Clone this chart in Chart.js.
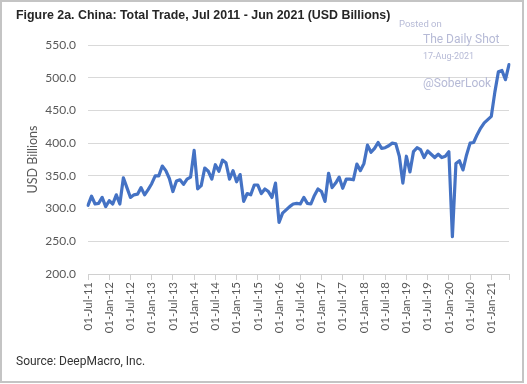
<!DOCTYPE html>
<html>
<head>
<meta charset="utf-8">
<title>China Total Trade</title>
<script src="https://cdn.jsdelivr.net/npm/chart.js@4.4.0/dist/chart.umd.min.js"></script>
<style>
  html, body { margin: 0; padding: 0; background: #fff; }
  #wrap { width: 527px; height: 384px; }
</style>
</head>
<body>
<div id="wrap"><canvas id="tradeChart" width="527" height="384"></canvas></div>
<script>
const titleText = "Figure 2a. China: Total Trade, Jul 2011 - Jun 2021 (USD Billions)";
const sourceText = "Source: DeepMacro, Inc.";
const axisTitle = "USD Billions";

// categories: one per month, Jul 2011 .. Jun 2021
const monthNames = ['Jan', 'Feb', 'Mar', 'Apr', 'May', 'Jun', 'Jul', 'Aug', 'Sep', 'Oct', 'Nov', 'Dec'];
const months = [];
for (let i = 0; i < 120; i++) {
    const m = (6 + i) % 12;
    const yy = 11 + Math.floor((6 + i) / 12);
    months.push('01-' + monthNames[m] + '-' + String(yy).padStart(2, '0'));
}

// total trade, USD billions
const totalTrade = [
    305, 319, 307, 308, 317, 303, 312, 307, 321, 307,
    347, 332, 317, 321, 322, 332, 321, 329, 338, 350,
    350, 365, 358, 346, 326, 342, 344, 337, 345, 348,
    389, 330, 335, 362, 357, 345, 367, 357, 374, 370,
    345, 358, 341, 352, 311, 323, 321, 336, 336, 323,
    330, 326, 317, 339, 279, 293, 298, 303, 307, 308,
    307, 317, 308, 307, 320, 330, 326, 311, 354, 332,
    339, 348, 331, 345, 345, 344, 368, 358, 369, 397,
    386, 392, 401, 392, 393, 396, 400, 399, 380, 339,
    380, 356, 387, 393, 390, 378, 388, 383, 378, 383,
    378, 380, 387, 257, 369, 373, 359, 382, 400, 401,
    413, 423, 431, 436, 441, 478, 509, 511, 497, 520
];

const yTickValues = [200, 250, 300, 350, 400, 450, 500, 550];

const decor = {
    id: 'decor',
    beforeDraw(chart) {
        const ctx = chart.ctx;
        ctx.save();
        ctx.fillStyle = '#fff';
        ctx.fillRect(0, 0, chart.width, chart.height);
        ctx.restore();
    },
    afterDraw(chart) {
        const ctx = chart.ctx;
        ctx.save();
        ctx.textBaseline = 'middle';
        ctx.textAlign = 'left';

        // title
        ctx.fillStyle = '#262626';
        ctx.font = 'bold 12.4px "Liberation Sans", Arial, sans-serif';
        ctx.fillText(titleText, 16, 16);

        // watermark
        ctx.fillStyle = '#b6bad6';
        ctx.font = '9.5px Roboto, sans-serif';
        ctx.fillText('Posted on', 399, 25);
        ctx.font = '12px Roboto, sans-serif';
        ctx.fillText('The Daily Shot', 423, 40);
        ctx.font = '9px Roboto, sans-serif';
        ctx.fillText('17-Aug-2021', 423, 57);
        ctx.font = '12px Roboto, sans-serif';
        ctx.fillText('@SoberLook', 423, 84);

        // source
        ctx.fillStyle = '#333';
        ctx.font = '12px Roboto, sans-serif';
        ctx.fillText(sourceText, 16, 362);

        // frame
        ctx.strokeStyle = '#c4c4c4';
        ctx.lineWidth = 2;
        ctx.strokeRect(1, 1, 522, 381);
        ctx.restore();
    }
};

const ctx = document.getElementById('tradeChart').getContext('2d');
new Chart(ctx, {
    type: 'line',
    data: {
        labels: months,
        datasets: [{
            data: totalTrade,
            borderColor: '#4472c4',
            borderWidth: 3.2,
            borderJoinStyle: 'round',
            borderCapStyle: 'round',
            pointRadius: 0,
            tension: 0,
            fill: false
        }]
    },
    options: {
        responsive: false,
        animation: false,
        layout: { padding: { left: 14, right: 18, top: 45, bottom: 0 } },
        plugins: { legend: { display: false }, tooltip: { enabled: false } },
        scales: {
            x: {
                afterFit: s => { s.height = 110; },
                grid: {
                    drawOnChartArea: false,
                    tickLength: 6,
                    color: c => (c.index % 6 === 0 || c.index === 119) ? '#d0d0d0' : 'rgba(0,0,0,0)'
                },
                border: { color: '#d0d0d0' },
                ticks: {
                    autoSkip: false,
                    maxRotation: 90,
                    minRotation: 90,
                    padding: 2,
                    color: '#595959',
                    font: { family: 'Lato', size: 11.5 },
                    callback: function (v, i) { return i % 6 === 0 ? this.getLabelForValue(v) : ''; }
                }
            },
            y: {
                min: 200,
                max: 550,
                afterBuildTicks: s => { s.ticks = yTickValues.map(v => ({ value: v })); },
                afterFit: s => { s.width = 74; },
                grid: { color: '#d9d9d9', drawTicks: false },
                border: { display: false },
                ticks: {
                    padding: 12,
                    color: '#595959',
                    font: { family: 'Lato', size: 12 },
                    callback: v => v.toFixed(1)
                },
                title: {
                    display: true,
                    text: axisTitle,
                    color: '#595959',
                    font: { family: 'Lato', size: 12.5 },
                    padding: { top: 11, bottom: 0 }
                }
            }
        }
    },
    plugins: [decor]
});
</script>
</body>
</html>
